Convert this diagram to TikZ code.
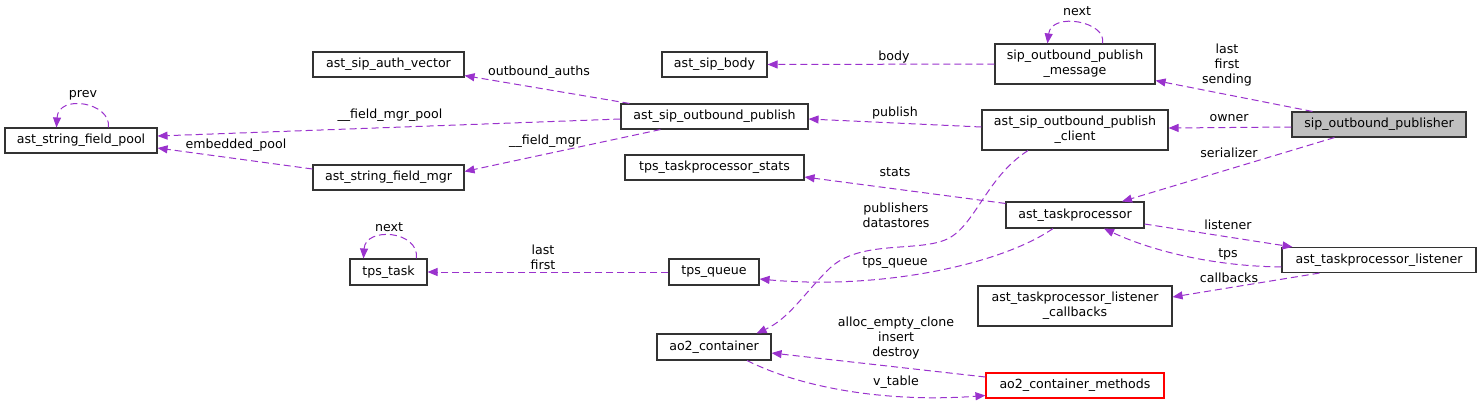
\documentclass[tikz,border=0pt]{standalone}
\usepackage{fontspec}
\setmainfont{DejaVu Sans}
\usetikzlibrary{arrows.meta}
\definecolor{edgepurple}{HTML}{9A32CD}

\begin{document}
\begin{tikzpicture}[x=1pt, y=-1pt,
        font=\fontsize{12.6}{15}\selectfont,
        cls/.style={draw=black!80, line width=1.1pt, fill=white, inner sep=0pt, align=center},
        lbl/.style={inner sep=0pt, align=center},
        use/.style={edgepurple, line width=1pt, dash pattern=on 7pt off 4pt,
            -{Triangle[length=10pt, width=8pt]}}]
        \useasboundingbox (0,0) rectangle (1481,405);

        \node[cls, minimum width=152pt, minimum height=25pt] (pool) at (81,140.5) {ast\_string\_field\_pool};
        \node[cls, minimum width=151pt, minimum height=25pt] (authvec) at (388.5,64.5) {ast\_sip\_auth\_vector};
        \node[cls, minimum width=151pt, minimum height=25pt] (fieldmgr) at (388.5,177.5) {ast\_string\_field\_mgr};
        \node[cls, minimum width=77pt, minimum height=26pt] (task) at (388.5,272) {tps\_task};
        \node[cls, minimum width=105pt, minimum height=25pt] (body) at (714.5,64.5) {ast\_sip\_body};
        \node[cls, minimum width=187pt, minimum height=25pt] (publish) at (714.5,116.5) {ast\_sip\_outbound\_publish};
        \node[cls, minimum width=179pt, minimum height=25pt] (stats) at (714.5,167.5) {tps\_taskprocessor\_stats};
        \node[cls, minimum width=90pt, minimum height=26pt] (queue) at (714,272) {tps\_queue};
        \node[cls, minimum width=114pt, minimum height=26pt] (container) at (714,347) {ao2\_container};
        \node[cls, minimum width=160pt, minimum height=40pt] (message) at (1075,64) {sip\_outbound\_publish\\\_message};
        \node[cls, minimum width=186pt, minimum height=40pt] (client) at (1075,130) {ast\_sip\_outbound\_publish\\\_client};
        \node[cls, minimum width=138pt, minimum height=26pt] (taskproc) at (1075,215) {ast\_taskprocessor};
        \node[cls, minimum width=194pt, minimum height=40pt] (callbacks) at (1075,306) {ast\_taskprocessor\_listener\\\_callbacks};
        \node[cls, draw=red, minimum width=178pt, minimum height=25pt] (methods) at (1075,385.5) {ao2\_container\_methods};
        \node[cls, fill=black!25, minimum width=174pt, minimum height=25pt] (publisher) at (1379,124.5) {sip\_outbound\_publisher};
        \node[cls, minimum width=194pt, minimum height=25pt] (listener) at (1379,260) {ast\_taskprocessor\_listener};

        \draw[use] (message.west) -- (body.east);
        \draw[use] ([xshift=108pt]message.north west) .. controls +(5,-22) and +(4,-32) .. ([xshift=53pt]message.north west);
        \draw[use] ([xshift=21pt]publisher.north west) -- ([yshift=4pt]message.south east);
        \draw[use] ([yshift=-2.5pt]publisher.west) -- ([yshift=2pt]client.east);
        \draw[use] ([xshift=43pt]publisher.south west) -- ([xshift=47pt]taskproc.north);
        \draw[use] ([yshift=3pt]client.west) -- ([yshift=-2.5pt]publish.east);
        \draw[use] ([xshift=9pt]publish.north west) -- ([yshift=2pt]authvec.south east);
        \draw[use] ([yshift=-2.5pt]publish.west) -- ([yshift=4.5pt]pool.east);
        \draw[use] ([xshift=40pt]publish.south west) -- ([yshift=6pt]fieldmgr.east);
        \draw[use] ([yshift=8.5pt]fieldmgr.west) -- ([yshift=-7.5pt]pool.east);
        \draw[use] ([xshift=104pt]pool.north west) .. controls +(3,-25) and +(2,-34) .. ([xshift=52pt]pool.north west);
        \draw[use] ([yshift=-2pt]taskproc.north west) -- ([yshift=-9.5pt]stats.east);
        \draw[use] ([xshift=-22pt]taskproc.south) .. controls (1000,265) and (880,290) .. ([yshift=-7pt]queue.east);
        \draw[use] (queue.west) -- (task.east);
        \draw[use] ([xshift=67pt]task.north west) .. controls +(3,-28) and +(2,-32) .. ([xshift=14pt]task.north west);
        \draw[use] ([xshift=-47pt]client.south) .. controls (985,178) and (975,228) .. (945,240)
            .. controls (915,252) and (860,240) .. (830,268)
            .. controls (805,292) and (790,318) .. ([xshift=-15pt]container.north east);
        \draw[use] ([yshift=-9pt]taskproc.east) -- ([xshift=11pt]listener.north west);
        \draw[use] ([yshift=-7pt]listener.west) .. controls (1210,266) and (1150,250) .. ([xshift=29pt]taskproc.south);
        \draw[use] ([xshift=38pt]listener.south west) -- ([yshift=9pt]callbacks.east);
        \draw[use] ([yshift=8.5pt]methods.west) -- ([yshift=-6pt]container.east);
        \draw[use] ([xshift=33pt]container.south) .. controls (810,392) and (900,402) .. ([yshift=-10pt]methods.west);

        \node[lbl] (l-prev) at (83,95) {prev};
        \node[lbl] (l-pool) at (390,115) {\_\_field\_mgr\_pool};
        \node[lbl] (l-embedded) at (236,145) {embedded\_pool};
        \node[lbl] (l-auths) at (539,72) {outbound\_auths};
        \node[lbl] (l-mgr) at (545,141) {\_\_field\_mgr};
        \node[lbl] (l-tasknext) at (389,227) {next};
        \node[lbl] (l-lastfirst) at (543,257) {last\\first};
        \node[lbl] (l-body) at (894,57) {body};
        \node[lbl] (l-publish) at (895,113) {publish};
        \node[lbl] (l-stats) at (895,172) {stats};
        \node[lbl] (l-clients) at (896,215.5) {publishers\\datastores};
        \node[lbl] (l-queue) at (895,263) {tps\_queue};
        \node[lbl] (l-methods) at (896,338) {alloc\_empty\_clone\\insert\\destroy};
        \node[lbl] (l-vtable) at (896,382) {v\_table};
        \node[lbl] (l-next) at (1077,11) {next};
        \node[lbl] (l-sending) at (1227,65.5) {last\\first\\sending};
        \node[lbl] (l-owner) at (1229,118) {owner};
        \node[lbl] (l-serializer) at (1229,153) {serializer};
        \node[lbl] (l-listener) at (1228,225) {listener};
        \node[lbl] (l-tps) at (1228,254) {tps};
        \node[lbl] (l-callbacks) at (1229,278) {callbacks};
    \end{tikzpicture}
\end{document}
